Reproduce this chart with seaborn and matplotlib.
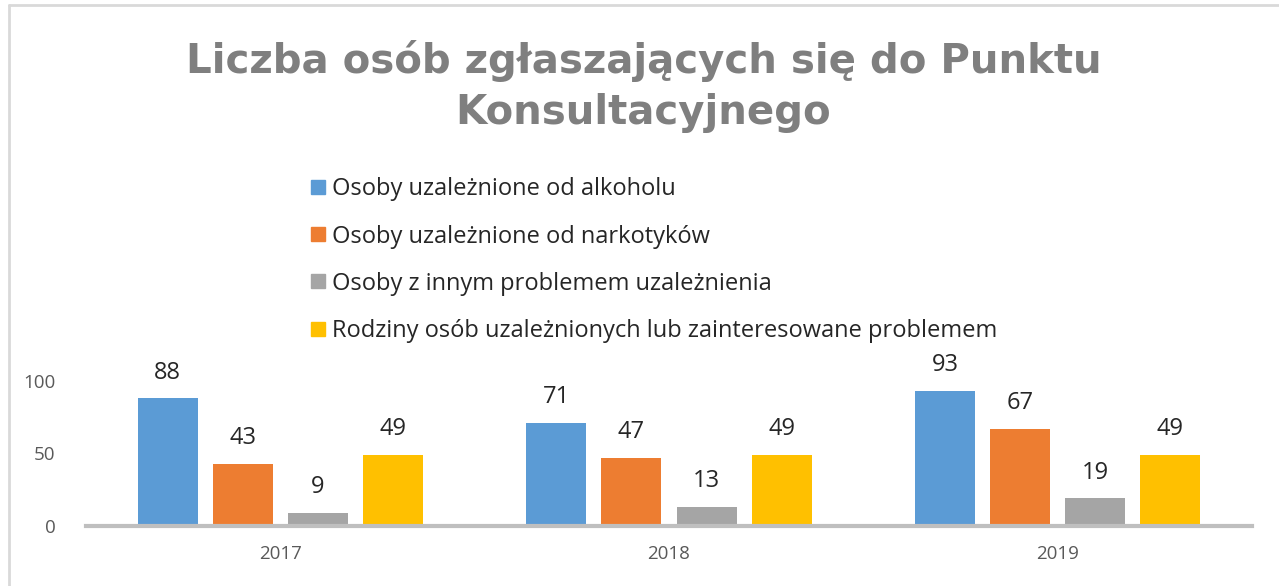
import matplotlib
matplotlib.use("Agg")
import matplotlib.pyplot as plt
import seaborn as sns
import pandas as pd
from matplotlib.lines import Line2D

years = ["2017", "2018", "2019"]
series = [
    "Osoby uzależnione od alkoholu",
    "Osoby uzależnione od narkotyków",
    "Osoby z innym problemem uzależnienia",
    "Rodziny osób uzależnionych lub zainteresowane problemem",
]
alkohol = [88, 71, 93]
narkotyki = [43, 47, 67]
inne = [9, 13, 19]
rodziny = [49, 49, 49]
colors = ["#5b9bd5", "#ed7d31", "#a5a5a5", "#ffc000"]
title = "Liczba osób zgłaszających się do Punktu\nKonsultacyjnego"

rows = []
for s, vals in zip(series, [alkohol, narkotyki, inne, rodziny]):
    for y, v in zip(years, vals):
        rows.append({"year": y, "series": s, "value": v})
df = pd.DataFrame(rows)

sns.set_theme(style="white")
plt.rcParams["font.family"] = ["Open Sans", "DejaVu Sans"]

fig = plt.figure(figsize=(12.79, 5.86), dpi=100)
ax = fig.add_axes([86 / 1279, 1 - 526 / 586, (1252 - 86) / 1279, (526 - 381) / 586])

sns.barplot(data=df, x="year", y="value", hue="series", hue_order=series,
            palette=colors, width=0.772, gap=0.2, ax=ax, legend=False,
            saturation=1, edgecolor="none")

ax.set_ylim(0, 100)
ax.set_xlim(-0.5, 2.5)
ax.set_yticks([0, 50, 100])
ax.set_xlabel("")
ax.set_ylabel("")
for sp in ["top", "right", "left"]:
    ax.spines[sp].set_visible(False)
ax.spines["bottom"].set_color("#bfbfbf")
ax.spines["bottom"].set_linewidth(3)
ax.tick_params(axis="y", length=0, labelsize=13.5, colors="#595959", pad=22)
ax.tick_params(axis="x", length=0, labelsize=13.5, colors="#595959", pad=14)

for cont in ax.containers:
    for bar in cont:
        h = bar.get_height()
        ax.annotate(f"{int(h)}", (bar.get_x() + bar.get_width() / 2, h),
                    xytext=(0, 10), textcoords="offset points",
                    ha="center", va="bottom", fontsize=17, color="#262626",
                    annotation_clip=False)

fig.text(0.503, 0.852, title, ha="center", va="center", fontsize=29,
         fontweight="bold", color="#7f7f7f", linespacing=1.35,
         family=["DejaVu Sans"])

handles = [Line2D([0], [0], marker="s", linestyle="none", markersize=10,
                  markerfacecolor=c, markeredgecolor=c) for c in colors]
fig.legend(handles, series, loc="upper left", bbox_to_anchor=(300 / 1279, 1 - 168 / 586),
           frameon=False, fontsize=17, labelspacing=0.98, handletextpad=0.25,
           handlelength=0.7, labelcolor="#262626", borderaxespad=0)

fig.add_artist(Line2D([9 / 1279, 9 / 1279], [0, 1 - 5 / 586], transform=fig.transFigure,
                      color="#d9d9d9", linewidth=2))
fig.add_artist(Line2D([9 / 1279, 1], [1 - 5 / 586, 1 - 5 / 586], transform=fig.transFigure,
                      color="#d9d9d9", linewidth=2))

fig.savefig("out.png", dpi=100)
